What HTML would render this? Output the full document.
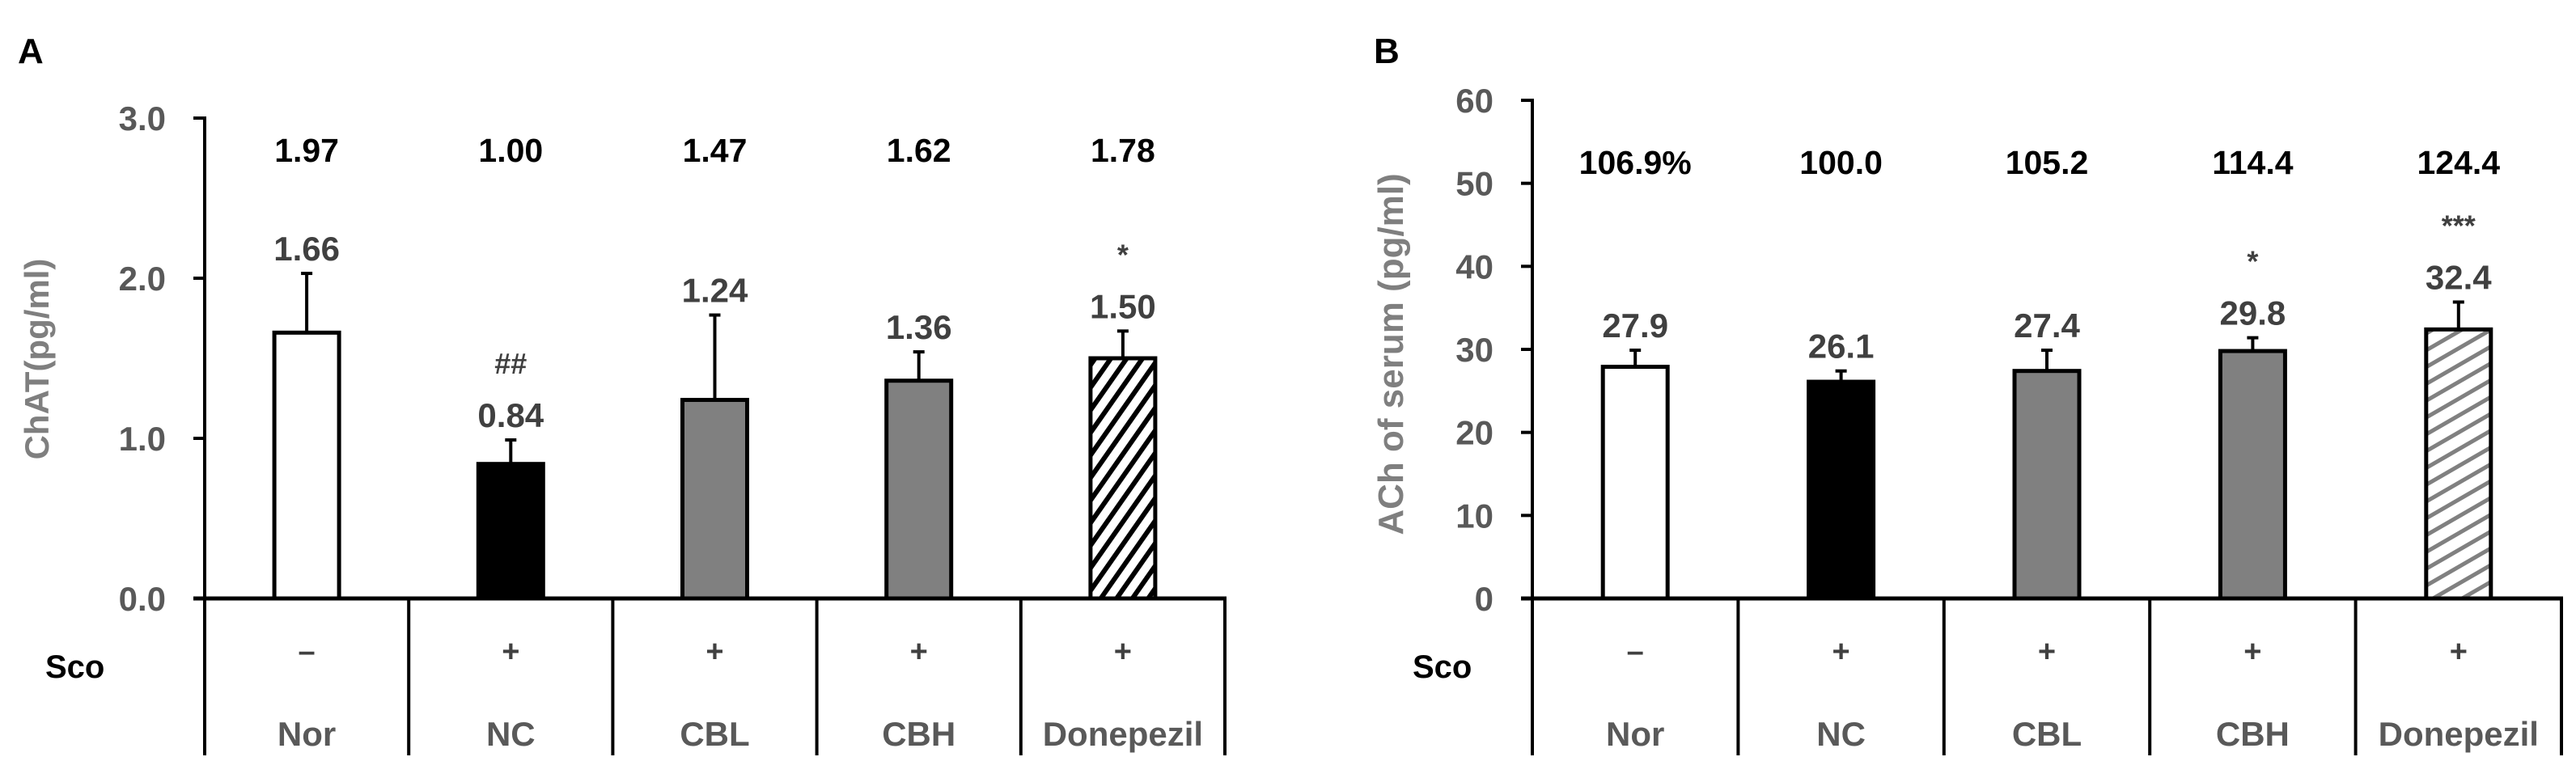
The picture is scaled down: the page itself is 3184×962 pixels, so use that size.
<!DOCTYPE html>
<html><head><meta charset="utf-8">
<style>
html,body{margin:0;padding:0;background:#fff;}
svg{display:block;}
text{font-family:"Liberation Sans",sans-serif;font-weight:bold;}
</style></head>
<body>
<svg id="chart" width="3184" height="962" viewBox="0 0 3184 962" xmlns="http://www.w3.org/2000/svg">
<defs>
<pattern id="hatchA" patternUnits="userSpaceOnUse" width="16" height="16" patternTransform="rotate(35)">
<rect width="16" height="16" fill="#fff"/><rect x="0" y="0" width="6" height="16" fill="#000"/>
</pattern>
<pattern id="hatchB" patternUnits="userSpaceOnUse" width="18" height="18" patternTransform="rotate(60)">
<rect width="18" height="18" fill="#fff"/><rect x="0" y="0" width="5" height="18" fill="#808080"/>
</pattern>
</defs>
<g id="panelA"></g>
<g id="panelB"></g>
</svg>
<script>
const categories = ["Nor","NC","CBL","CBH","Donepezil"];
const scoSigns = ["\u2013","+","+","+","+"];
const fills = ["#fff","#000","#808080","#808080","hatch"];

const valuesA = [1.66,0.84,1.24,1.36,1.50];
const errorsA = [0.37,0.15,0.53,0.18,0.17];
const ratiosA = ["1.97","1.00","1.47","1.62","1.78"];
const sigA = ["","##","","","*"];
const ticksA = [0,1,2,3];
const tickLabelsA = ["0.0","1.0","2.0","3.0"];

const valuesB = [27.9,26.1,27.4,29.8,32.4];
const errorsB = [2.0,1.3,2.5,1.6,3.3];
const ratiosB = ["106.9%","100.0","105.2","114.4","124.4"];
const sigB = ["","","","*","***"];
const ticksB = [0,10,20,30,40,50,60];
const tickLabelsB = ["0","10","20","30","40","50","60"];

const NS = "http://www.w3.org/2000/svg";
function mk(parent, tag, attrs, txt){
  const e = document.createElementNS(NS, tag);
  for (const k in attrs) e.setAttribute(k, attrs[k]);
  if (txt !== undefined) e.textContent = txt;
  parent.appendChild(e);
  return e;
}

function panel(g, cfg){
  const yScale = v => cfg.y0 - (v - 0) / cfg.yMax * (cfg.y0 - cfg.yTop);
  const catW = (cfg.xEnd - cfg.axisX) / categories.length;
  const cx = i => cfg.axisX + catW * (i + 0.5);

  let t = mk(g,'text',{x:cfg.letterX,y:78,'font-size':44,fill:'#000'},cfg.letter);
  
  

  let l = mk(g,'line',{x1:cfg.axisX,y1:cfg.yTop-2,x2:cfg.axisX,y2:cfg.y0,stroke:'#000','stroke-width':4});
  
  
  cfg.ticks.forEach((v,i)=>{
    const y = yScale(v);
    let tk = mk(g,'line',{x1:cfg.axisX-14,y1:y,x2:cfg.axisX,y2:y,stroke:'#000','stroke-width':4});
    
    
    let tl = mk(g,'text',{x:cfg.axisX-48,y:y+15,'font-size':42,fill:'#595959','text-anchor':'end'},cfg.tickLabels[i]);
    
    
  });
  let yt = mk(g,'text',{x:0,y:0,'font-size':cfg.titleSize,fill:'#7f7f7f','text-anchor':'middle',
    transform:`translate(${cfg.titleX},${cfg.titleY}) rotate(-90)`},cfg.title);
  
  

  let xa = mk(g,'line',{x1:cfg.axisX-14,y1:cfg.y0,x2:cfg.xEnd+2,y2:cfg.y0,stroke:'#000','stroke-width':5});
  
  
  for (let i=0;i<=categories.length;i++){
    const x = cfg.axisX + catW*i;
    let d = mk(g,'line',{x1:x,y1:cfg.y0,x2:x,y2:934,stroke:'#000','stroke-width':4});
    
    
  }
  let sco = mk(g,'text',{x:cfg.scoX,y:838,'font-size':40,fill:'#000'},'Sco');
  
  

  categories.forEach((c,i)=>{
    const x = cx(i);
    const v = cfg.values[i], e = cfg.errors[i];
    const yv = yScale(v), ye = yScale(v+e);
    const bw = 80;
    const fill = fills[i]==='hatch' ? cfg.hatch : fills[i];
    let st = mk(g,'line',{x1:x,y1:ye,x2:x,y2:yv,stroke:'#000','stroke-width':4});
    
    
    let cap = mk(g,'line',{x1:x-7,y1:ye,x2:x+7,y2:ye,stroke:'#000','stroke-width':4});
    
    
    let b = mk(g,'rect',{x:x-bw/2,y:yv,width:bw,height:cfg.y0-yv,fill:fill,stroke:'#000','stroke-width':5});
    
    
    let vl = mk(g,'text',{x:x,y:ye-16,'font-size':42,fill:'#404040','text-anchor':'middle'},cfg.valueText(v));
    
    
    if (cfg.sig[i]){
      let s = mk(g,'text',{x:x,y:ye-82,'font-size':36,fill:'#404040','text-anchor':'middle'},cfg.sig[i]);
      
      
    }
    let r = mk(g,'text',{x:x,y:cfg.ratioY,'font-size':41,fill:'#000','text-anchor':'middle'},cfg.ratios[i]);
    
    
    let sg = mk(g,'text',{x:x,y:818,'font-size':38,fill:'#404040','text-anchor':'middle'},scoSigns[i]);
    
    
    let cl = mk(g,'text',{x:x,y:922,'font-size':42,fill:'#595959','text-anchor':'middle'},c);
    
    
  });
}

panel(document.getElementById('panelA'),{
  letter:'A',letterX:22,axisX:253,xEnd:1514,y0:740,yTop:146,yMax:3,
  ticks:ticksA,tickLabels:tickLabelsA,values:valuesA,errors:errorsA,ratios:ratiosA,sig:sigA,
  title:'ChAT(pg/ml)',titleSize:42,titleX:60,titleY:444,scoX:56,ratioY:200,hatch:'url(#hatchA)',
  valueText:v=>v.toFixed(2)
});
panel(document.getElementById('panelB'),{
  letter:'B',letterX:1698,axisX:1894,xEnd:3166,y0:740,yTop:124,yMax:60,
  ticks:ticksB,tickLabels:tickLabelsB,values:valuesB,errors:errorsB,ratios:ratiosB,sig:sigB,
  title:'ACh of serum (pg/ml)',titleSize:44,titleX:1734,titleY:438,scoX:1746,ratioY:215,hatch:'url(#hatchB)',
  valueText:v=>v.toFixed(1)
});
</script>
</body></html>
